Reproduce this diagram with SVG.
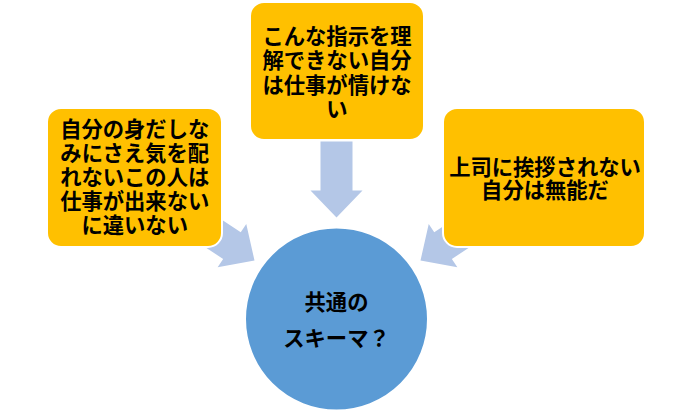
<svg xmlns="http://www.w3.org/2000/svg" width="688" height="413" viewBox="0 0 688 413">
<defs>
<style>
.arrow{fill:#B4C7E7;}
.box{fill:#FFC000;stroke:#FFFFFF;stroke-width:2;}
.circ{fill:#5B9BD5;stroke:#FFFFFF;stroke-width:2;}
.t{font-family:"Noto Sans CJK JP","Noto Sans CJK SC",sans-serif;font-weight:bold;font-size:21.3px;fill:#000000;text-anchor:middle;dominant-baseline:central;}
</style>
<polygon id="arr" points="0,-16 49,-16 49,-26 76,0 49,26 49,16 0,16"/>
</defs>
<rect width="688" height="413" fill="#FFFFFF"/>
<g id="connectors">
<use href="#arr" class="arrow" transform="translate(336.5,217.5) rotate(90) translate(-76,0)"/>
<use href="#arr" class="arrow" transform="translate(254.5,260.5) rotate(33.4) translate(-76,0)"/>
<use href="#arr" class="arrow" transform="translate(420.5,260.5) rotate(146.6) translate(-76,0)"/>
</g>
<g id="node-left">
<rect class="box" x="47" y="108" width="175" height="139" rx="14"/>
<text class="t" x="134.7" y="127.7">自分の身だしな</text>
<text class="t" x="134.7" y="151.7">みにさえ気を配</text>
<text class="t" x="134.7" y="175.5">れないこの人は</text>
<text class="t" x="134.7" y="199.5">仕事が出来ない</text>
<text class="t" x="134.7" y="223.5">に違いない</text>
</g>
<g id="node-top">
<rect class="box" x="250" y="2" width="174" height="138" rx="14"/>
<text class="t" x="337" y="34.2">こんな指示を理</text>
<text class="t" x="337" y="58.6">解できない自分</text>
<text class="t" x="337" y="83">は仕事が情けな</text>
<text class="t" x="337" y="107">い</text>
</g>
<g id="node-right">
<rect class="box" x="443" y="108" width="202" height="139" rx="14"/>
<text class="t" x="545" y="165">上司に挨拶されない</text>
<text class="t" x="545" y="188.3">自分は無能だ</text>
</g>
<g id="node-center">
<circle class="circ" cx="336.5" cy="319" r="91.5"/>
<text class="t" x="336.5" y="300">共通の</text>
<text class="t" x="336.5" y="336.7">スキーマ？</text>
</g>
</svg>
